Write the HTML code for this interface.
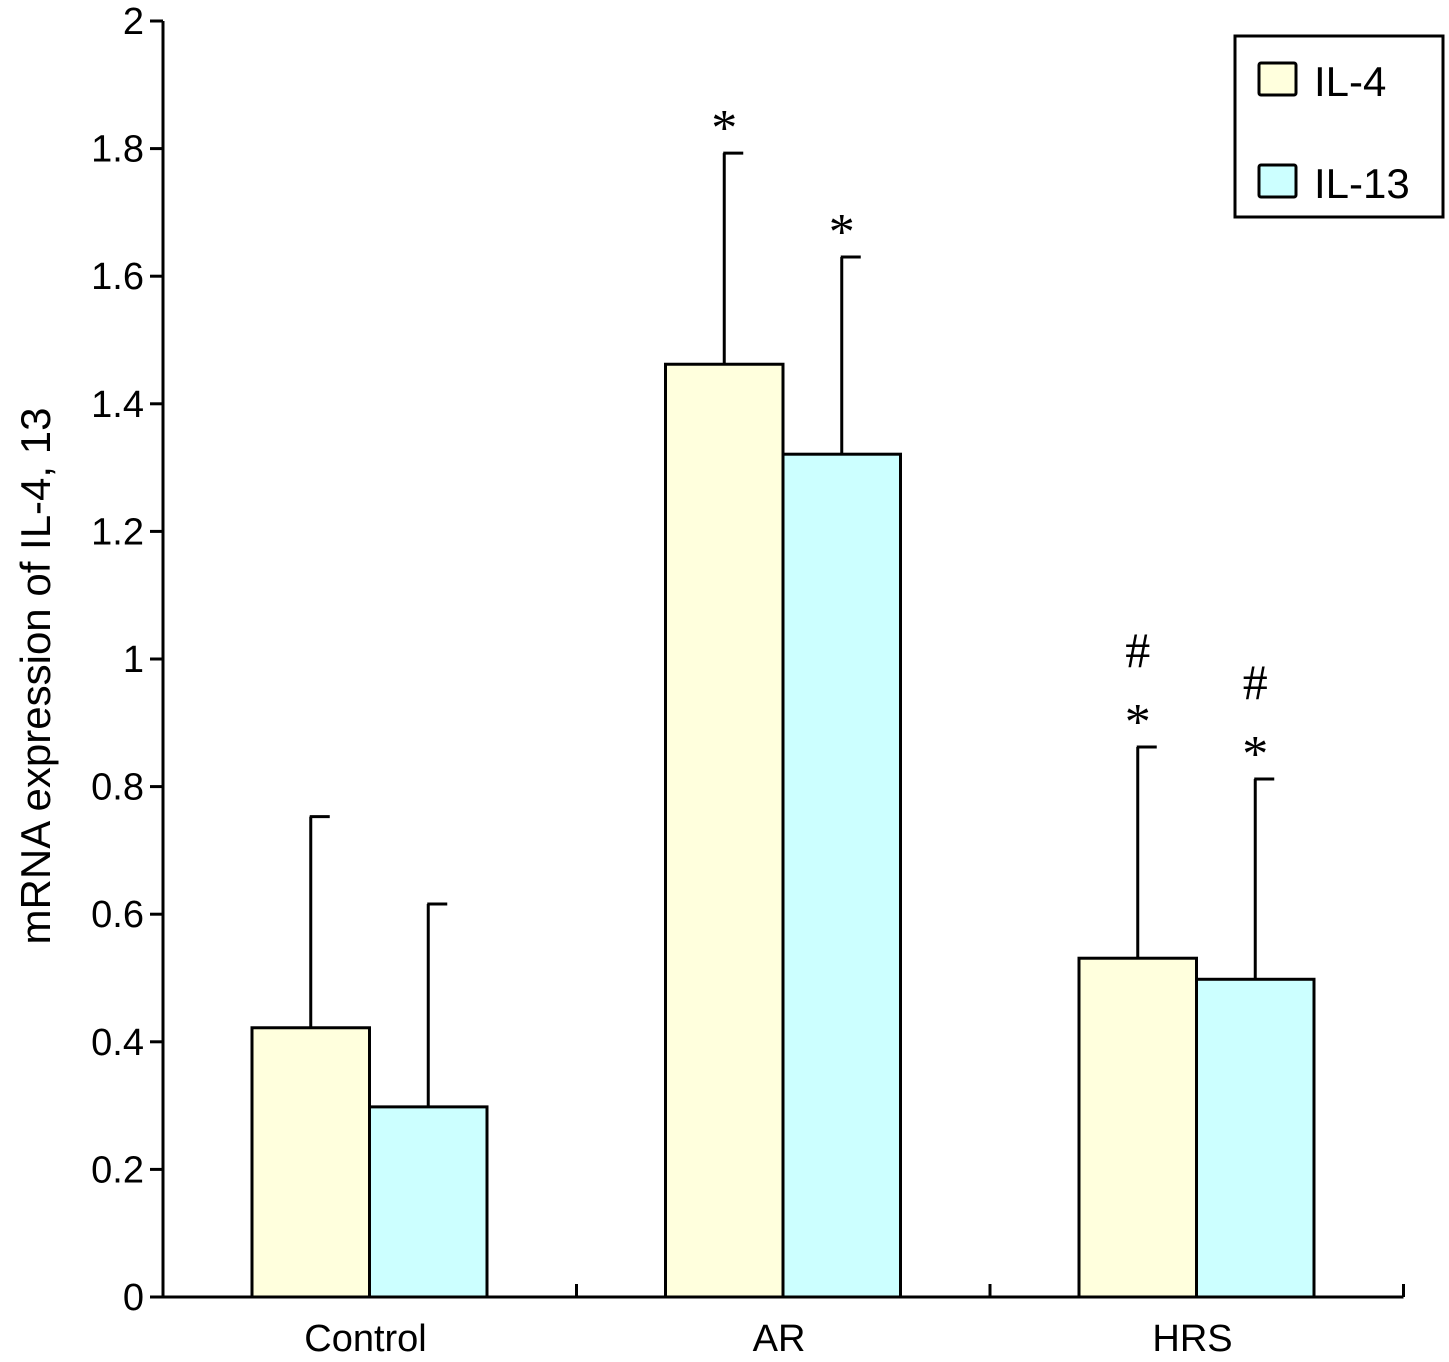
<!DOCTYPE html>
<html><head><meta charset="utf-8"><style>body{margin:0;background:#fff}svg{display:block;font-family:"Liberation Sans",sans-serif}</style></head>
<body>
<svg id="chart" width="1449" height="1362" xmlns="http://www.w3.org/2000/svg">
<g id="g"></g>
</svg>
<script>
const categories=["Control","AR","HRS"];
const il4=[0.422,1.462,0.531];
const il4Err=[0.331,0.331,0.331];
const il13=[0.298,1.321,0.498];
const il13Err=[0.318,0.309,0.314];
const il4Marks=["","*","#\n*"];
const il13Marks=["","*","#\n*"];
const yTicks=[0,0.2,0.4,0.6,0.8,1,1.2,1.4,1.6,1.8,2];
const NS="http://www.w3.org/2000/svg";
const g=document.getElementById('g');
const y0=1297,y1=21,x0=163,groupW=413.5;
const y=v=>y0-(v/2)*(y0-y1);
const gx=i=>x0+i*groupW;
function el(t,a,txt){const e=document.createElementNS(NS,t);for(const k in a)e.setAttribute(k,a[k]);if(txt!==undefined)e.textContent=txt;g.appendChild(e);return e;}
let e;
e=el('line',{x1:x0,y1:y1,x2:x0,y2:y0,stroke:'#000','stroke-width':3});

e=el('line',{x1:x0,y1:y0,x2:x0+3*groupW,y2:y0,stroke:'#000','stroke-width':3});

yTicks.forEach(t=>{
 e=el('line',{x1:x0-13,y1:y(t),x2:x0,y2:y(t),stroke:'#000','stroke-width':3});
 
 e=el('text',{x:144,y:y(t)+13,'text-anchor':'end','font-size':38},String(t));
 
});
for(let i=1;i<=3;i++){e=el('line',{x1:gx(i),y1:y0-13,x2:gx(i),y2:y0,stroke:'#000','stroke-width':3});
 }
const bw=117.5;
function bar(i,val,err,off,fill,name,mark){
 const cx=gx(i)+89+off*bw;
 e=el('rect',{x:cx,y:y(val),width:bw,height:y0-y(val),fill:fill,stroke:'#000','stroke-width':3});
 
 const mx=cx+bw/2;
 e=el('line',{x1:mx,y1:y(val),x2:mx,y2:y(val+err),stroke:'#000','stroke-width':3});
 
 e=el('line',{x1:mx-1,y1:y(val+err),x2:mx+19,y2:y(val+err),stroke:'#000','stroke-width':3});
 
 const lines=mark?mark.split('\n'):[];
 lines.reverse().forEach((m,k)=>{
  e=el('text',{x:mx,y:y(val+err)-24-k*56+(m==='*'?16:0),'text-anchor':'middle','font-size':m==='*'?52:50,'font-family':'Liberation Serif, serif'},m);
  
 });
}
categories.forEach((c,i)=>{
 bar(i,il4[i],il4Err[i],0,'#ffffdd','bar-il4-'+c.toLowerCase(),il4Marks[i]);
 bar(i,il13[i],il13Err[i],1,'#ccffff','bar-il13-'+c.toLowerCase(),il13Marks[i]);
 e=el('text',{x:gx(i)+89+bw-4,y:1351,'text-anchor':'middle','font-size':38},c);
 
});
e=el('text',{x:50,y:676,'text-anchor':'middle','font-size':42,transform:'rotate(-90 50 676)'},'mRNA expression of IL-4, 13');

e=el('rect',{x:1235,y:36,width:208,height:181,fill:'#fff',stroke:'#000','stroke-width':3});

[['IL-4','#ffffdd',63],['IL-13','#ccffff',165]].forEach(([t,f,yy])=>{
 e=el('rect',{x:1259,y:yy,width:37,height:32,fill:f,stroke:'#000','stroke-width':3,rx:2});
 
 e=el('text',{x:1314,y:yy+33,'font-size':42},t);
 
});
</script>
</body></html>
